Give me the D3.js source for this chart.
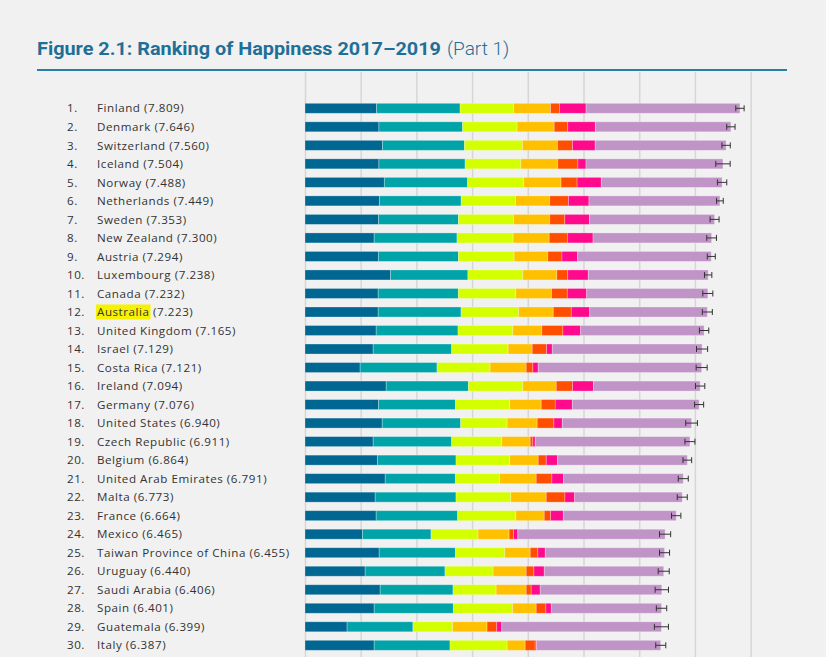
<!DOCTYPE html>
<html>
<head>
<meta charset="utf-8">
<script src="https://cdn.jsdelivr.net/npm/d3@7"></script>
<style>
  html, body { margin: 0; padding: 0; background: #f1f1f1; }
  svg { display: block; }
</style>
</head>
<body>
<svg id="chart" width="826" height="657"></svg>
<script>
const countries = ["Finland","Denmark","Switzerland","Iceland","Norway","Netherlands","Sweden","New Zealand","Austria","Luxembourg","Canada","Australia","United Kingdom","Israel","Costa Rica","Ireland","Germany","United States","Czech Republic","Belgium","United Arab Emirates","Malta","France","Mexico","Taiwan Province of China","Uruguay","Saudi Arabia","Spain","Guatemala","Italy"];
const scores = [7.809,7.646,7.560,7.504,7.488,7.449,7.353,7.300,7.294,7.238,7.232,7.223,7.165,7.129,7.121,7.094,7.076,6.940,6.911,6.864,6.791,6.773,6.664,6.465,6.455,6.440,6.406,6.401,6.399,6.387];
const gdp        = [1.285,1.327,1.391,1.327,1.424,1.339,1.322,1.242,1.317,1.537,1.314,1.314,1.278,1.224,0.990,1.458,1.320,1.386,1.224,1.302,1.440,1.260,1.278,1.032,1.332,1.080,1.350,1.242,0.756,1.242];
const social     = [1.500,1.503,1.472,1.548,1.495,1.464,1.433,1.487,1.437,1.388,1.439,1.487,1.469,1.409,1.380,1.475,1.380,1.409,1.409,1.409,1.259,1.451,1.463,1.230,1.367,1.433,1.307,1.421,1.182,1.361];
const health     = [0.961,0.979,1.041,1.001,1.008,0.976,0.987,1.008,1.001,0.986,1.032,1.032,0.984,1.014,0.953,0.978,0.977,0.834,0.900,0.966,0.792,0.984,1.044,0.845,0.888,0.864,0.774,1.062,0.713,1.026];
const freedom    = [0.662,0.665,0.629,0.662,0.670,0.614,0.650,0.647,0.603,0.610,0.642,0.624,0.522,0.432,0.648,0.600,0.564,0.540,0.510,0.510,0.660,0.636,0.510,0.558,0.456,0.594,0.540,0.426,0.618,0.324];
const generosity = [0.160,0.243,0.269,0.362,0.288,0.336,0.273,0.326,0.256,0.196,0.282,0.324,0.378,0.258,0.120,0.294,0.252,0.300,0.048,0.144,0.282,0.336,0.114,0.078,0.138,0.138,0.090,0.174,0.174,0.180];
const corruption = [0.478,0.495,0.408,0.145,0.434,0.369,0.442,0.461,0.281,0.368,0.348,0.330,0.318,0.102,0.096,0.372,0.306,0.150,0.042,0.204,0.210,0.174,0.228,0.078,0.132,0.186,0.162,0.096,0.090,0.024];
const dystopia   = [2.763,2.434,2.350,2.459,2.169,2.351,2.246,2.129,2.399,2.153,2.175,2.112,2.216,2.690,2.934,1.917,2.277,2.321,2.778,2.329,2.148,1.932,2.027,2.644,2.142,2.145,2.183,1.980,2.866,2.230];
const ciHalf     = [0.075,0.075,0.075,0.129,0.084,0.060,0.081,0.087,0.072,0.066,0.090,0.090,0.084,0.100,0.099,0.084,0.081,0.105,0.090,0.078,0.090,0.090,0.084,0.100,0.090,0.099,0.120,0.093,0.126,0.090];
const xTicks     = [0,1,2,3,4,5,6,7,8];
const highlight  = "Australia";
const titleMain  = "Figure 2.1: Ranking of Happiness 2017–2019";
const titleSub   = "(Part 1)";

const keys = ["gdp","social","health","freedom","generosity","corruption","dystopia"];
const colors = ["#006792","#00a4a8","#d4ff00","#ffc000","#ff4e00","#ff0a8c","#c194c8"];

const rows = countries.map((c, i) => ({
  country: c, rank: i + 1, score: scores[i], ci: ciHalf[i],
  gdp: gdp[i], social: social[i], health: health[i], freedom: freedom[i],
  generosity: generosity[i], corruption: corruption[i], dystopia: dystopia[i]
}));

const svg = d3.select("#chart");
const x = d3.scaleLinear().domain([0, 8]).range([305, 750.6]);
const y = d3.scalePoint().domain(countries).range([108.3, 645.3]);
const barH = 10;
const color = d3.scaleOrdinal().domain(keys).range(colors);

// title
const title = svg.append("text").attr("x", 37).attr("y", 55)
  .attr("fill", "#1f6f98").style("font-family", "Roboto, 'Open Sans', sans-serif");
title.append("tspan").text(titleMain).style("font-weight", 700).style("font-size", "19px")
  .attr("textLength", 404).attr("lengthAdjust", "spacingAndGlyphs");
title.append("tspan").attr("dx", 6).text(titleSub).style("font-weight", 300).style("font-size", "19px");

svg.append("line").attr("x1", 37).attr("x2", 787).attr("y1", 70).attr("y2", 70)
  .attr("stroke", "#2a7ea5").attr("stroke-width", 2);

// gridlines via axis
const grid = svg.append("g").attr("transform", "translate(0,72)")
  .call(d3.axisBottom(x).tickValues(xTicks).tickSize(600).tickFormat(""));
grid.select(".domain").remove();
grid.selectAll(".tick line").attr("stroke", "#d6d6d6").attr("stroke-width", 1.5);

// stacked bars
const stack = d3.stack().keys(keys)(rows);
svg.append("g").selectAll("g").data(stack).join("g")
  .attr("fill", d => color(d.key))
  .selectAll("rect").data(d => d).join("rect")
  .attr("x", d => x(d[0]))
  .attr("y", d => y(d.data.country) - barH / 2)
  .attr("width", d => x(d[1]) - x(d[0]))
  .attr("height", barH)
  .attr("stroke", "rgba(255,255,255,0.35)")
  .attr("stroke-width", 0.8);

// whiskers
const wg = svg.append("g").attr("stroke", "#333").attr("stroke-width", 1);
rows.forEach(d => {
  const cy = y(d.country);
  const x0 = x(d.score - d.ci), x1 = x(d.score + d.ci);
  wg.append("line").attr("x1", x0).attr("x2", x1).attr("y1", cy).attr("y2", cy);
  wg.append("line").attr("x1", x0).attr("x2", x0).attr("y1", cy - 3).attr("y2", cy + 3);
  wg.append("line").attr("x1", x1).attr("x2", x1).attr("y1", cy - 3).attr("y2", cy + 3);
});

// labels
const lab = svg.append("g").style("font-family", "'Open Sans', sans-serif")
  .style("font-size", "11.6px").style("letter-spacing", "0.55px").attr("fill", "#333");
rows.forEach(d => {
  const cy = y(d.country);
  lab.append("text").attr("x", 67).attr("y", cy).attr("dy", "0.36em").text(d.rank + ".");
  if (d.country === highlight) {
    const t = lab.append("text").attr("x", 97).attr("y", cy).attr("dy", "0.36em");
    const ts = t.append("tspan").text(d.country);
    const w = ts.node().getComputedTextLength();
    lab.insert("rect", () => t.node()).attr("x", 96).attr("y", cy - 7.5).attr("width", w + 2).attr("height", 15)
      .attr("fill", "#f7f300");
    t.append("tspan").text(" (" + d.score.toFixed(3) + ")");
  } else {
    lab.append("text").attr("x", 97).attr("y", cy).attr("dy", "0.36em")
      .text(d.country + " (" + d.score.toFixed(3) + ")");
  }
});
</script>
</body>
</html>
